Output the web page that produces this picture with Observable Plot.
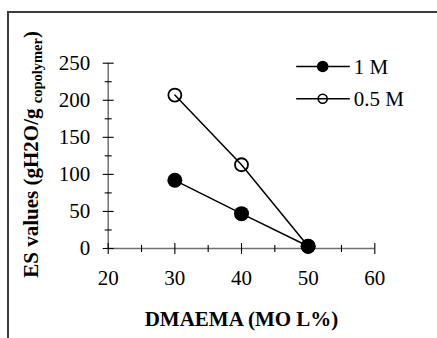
<!DOCTYPE html>
<html>
<head>
<meta charset="utf-8">
<script src="https://cdn.jsdelivr.net/npm/d3@7"></script>
<script src="https://cdn.jsdelivr.net/npm/@observablehq/plot@0.6"></script>
<style>
  html, body { margin: 0; padding: 0; background: #fff; font-family: "Liberation Serif", serif; }
  #wrap { position: relative; width: 437px; height: 338px; overflow: hidden; }
  #frame { position: absolute; left: 7px; top: 11px; width: 440px; height: 340px;
           border-top: 2px solid #3c3c3c; border-left: 2px solid #3c3c3c; pointer-events: none; }
  #chart { position: absolute; left: 0; top: 0; }
</style>
</head>
<body>
<div id="wrap"><div id="chart"></div><div id="frame"></div></div>
<script>
// ---- data ----
const dmaema = [30, 40, 50];
const es1M = [92, 47, 3];
const es05M = [207, 113, 3];
const seriesNames = ["1 M", "0.5 M"];
const xTicks = [20, 30, 40, 50, 60];
const xMinorTicks = [25, 35, 45, 55];
const yTicks = [0, 50, 100, 150, 200, 250];
const yMinorTicks = [25, 75, 125, 175, 225];
const xLabel = "DMAEMA (MO L%)";
const yLabelMain = "ES values (gH2O/g ";
const yLabelSub = "copolymer";
const yLabelEnd = ")";

const FONT = "Liberation Serif";

const s1 = dmaema.map((x, i) => ({x, y: es1M[i]}));
const s2 = dmaema.map((x, i) => ({x, y: es05M[i]}));

const vline = {draw(ctx, size) { const r = Math.sqrt(size / Math.PI); ctx.moveTo(0, -r); ctx.lineTo(0, r); }};
const hline = {draw(ctx, size) { const r = Math.sqrt(size / Math.PI); ctx.moveTo(-r, 0); ctx.lineTo(r, 0); }};

const fullYLabel = yLabelMain + yLabelSub + yLabelEnd;

const chart = Plot.plot({
  width: 437,
  height: 338,
  marginLeft: 107.7,
  marginRight: 62.7,
  marginTop: 62.7,
  marginBottom: 90,
  style: {fontFamily: FONT, fontSize: "21px", color: "#000", background: "transparent"},
  x: {domain: [20, 60], label: null},
  y: {domain: [0, 250], label: null},
  marks: [
    Plot.axisX({ticks: xTicks, tickSize: 0, tickPadding: 22, label: null, fontSize: 21, fontFamily: FONT}),
    Plot.axisY({ticks: yTicks, tickSize: 0, tickPadding: 18, label: null, fontSize: 21, fontFamily: FONT}),
    Plot.ruleY([0], {stroke: "#707070", strokeWidth: 1.5}),
    Plot.ruleX([20], {stroke: "#707070", strokeWidth: 1.5}),
    Plot.dot(xTicks, {x: d => d, y: () => 0, symbol: vline, r: 5.5, stroke: "#000", fill: "none", strokeWidth: 1.1}),
    Plot.dot(xMinorTicks, {x: d => d, y: () => 0, symbol: vline, r: 3.5, stroke: "#000", fill: "none", strokeWidth: 1.1}),
    Plot.dot(yTicks, {y: d => d, x: () => 20, symbol: hline, r: 5.5, stroke: "#000", fill: "none", strokeWidth: 1.1}),
    Plot.dot(yMinorTicks, {y: d => d, x: () => 20, symbol: hline, r: 3.5, stroke: "#000", fill: "none", strokeWidth: 1.1}),
    // series
    Plot.line(s2, {x: "x", y: "y", stroke: "#000", strokeWidth: 1.5}),
    Plot.dot(s2, {x: "x", y: "y", r: 6.5, stroke: "#000", fill: "none", strokeWidth: 1.8}),
    Plot.line(s1, {x: "x", y: "y", stroke: "#000", strokeWidth: 1.5}),
    Plot.dot(s1, {x: "x", y: "y", r: 7.5, fill: "#000", stroke: "none"}),
    // legend
    Plot.dot([seriesNames[0]], {frameAnchor: "top-left", dx: 214.8, dy: 3.3, symbol: hline, r: 26.8, stroke: "#000", fill: "none", strokeWidth: 1.6}),
    Plot.dot([seriesNames[0]], {frameAnchor: "top-left", dx: 214.5, dy: 3.3, r: 5.8, fill: "#000", stroke: "none"}),
    Plot.text([seriesNames[0]], {text: d => d, frameAnchor: "top-left", dx: 245.5, dy: 4, textAnchor: "start", lineAnchor: "middle", fontSize: 21, fontFamily: FONT}),
    Plot.dot([seriesNames[1]], {frameAnchor: "top-left", dx: 214.8, dy: 35.6, symbol: hline, r: 26.8, stroke: "#000", fill: "none", strokeWidth: 1.6}),
    Plot.dot([seriesNames[1]], {frameAnchor: "top-left", dx: 214.5, dy: 35.6, r: 4.5, fill: "none", stroke: "#000", strokeWidth: 1.6}),
    Plot.text([seriesNames[1]], {text: d => d, frameAnchor: "top-left", dx: 245.5, dy: 36, textAnchor: "start", lineAnchor: "middle", fontSize: 21, fontFamily: FONT}),
    // axis titles
    Plot.text([xLabel], {text: d => d, frameAnchor: "bottom", dy: 77, lineAnchor: "bottom", textAnchor: "middle", fontWeight: "bold", fontSize: 21, fontFamily: FONT}),
    Plot.text([fullYLabel], {text: d => d, frameAnchor: "left", dx: -70, dy: -1.5, rotate: -90, lineAnchor: "bottom", textAnchor: "middle", fontWeight: "bold", fontSize: 21, fontFamily: FONT})
  ]
});

// subscript in y label
d3.select(chart).selectAll("text").filter(function() { return this.textContent === fullYLabel; }).each(function() {
  const t = d3.select(this);
  t.text(null);
  t.append("tspan").text(yLabelMain);
  t.append("tspan").attr("dy", 4).attr("font-size", 14.5).text(yLabelSub);
  t.append("tspan").attr("dy", -4).text(yLabelEnd);
});
d3.select(chart).selectAll("g, text, tspan").style("font-family", FONT);

document.getElementById("chart").appendChild(chart);
</script>
</body>
</html>
